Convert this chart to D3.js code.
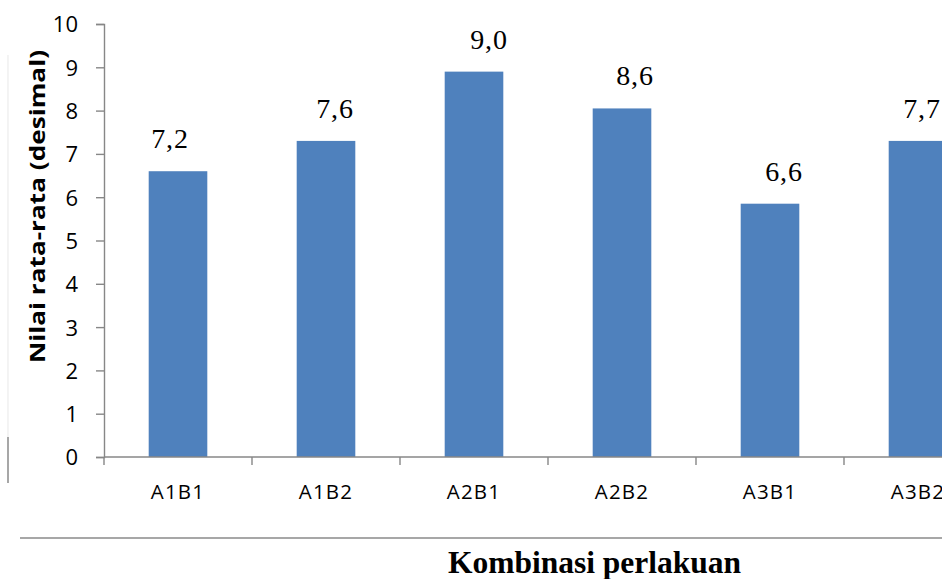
<!DOCTYPE html>
<html>
<head>
<meta charset="utf-8">
<script src="https://cdn.jsdelivr.net/npm/d3@7"></script>
<style>
  html, body { margin: 0; padding: 0; background: #fff; }
  svg { display: block; }
</style>
</head>
<body>
<svg id="chart" width="942" height="579"></svg>
<script>
// ---- data ----
const categories = ["A1B1", "A1B2", "A2B1", "A2B2", "A3B1", "A3B2"];
const barValues = [6.6, 7.3, 8.9, 8.05, 5.85, 7.3];
const labelTexts = ["7,2", "7,6", "9,0", "8,6", "6,6", "7,7"];
const labelDx = [-8, 9, 15, 13, 14, 4];
const yTicks = [0, 1, 2, 3, 4, 5, 6, 7, 8, 9, 10];
const yTitle = "Nilai rata-rata (desimal)";
const xTitle = "Kombinasi perlakuan";

// ---- layout ----
const svg = d3.select("#chart");
const axisColor = "#878787";
const barColor = "#4F81BD";
const plotLeft = 104, plotRight = 992, plotTop = 24, plotBottom = 457;

const y = d3.scaleLinear().domain([0, 10]).range([plotBottom, plotTop]);
const xSlot = d3.scaleBand().domain(categories).range([plotLeft, plotRight]).padding(0);
const x = d3.scaleBand().domain(categories).range([plotLeft, plotRight])
  .paddingInner(0.604).paddingOuter(0.302);

// faint & dark left border lines (page artefacts)
svg.append("line").attr("x1", 8).attr("x2", 8).attr("y1", 55).attr("y2", 437)
  .attr("stroke", "#ececec").attr("stroke-width", 1.2);
svg.append("line").attr("x1", 8).attr("x2", 8).attr("y1", 437).attr("y2", 483)
  .attr("stroke", "#8a8a8a").attr("stroke-width", 1.5);

// bars
svg.append("g").selectAll("rect").data(categories).join("rect")
  .attr("x", d => x(d))
  .attr("y", (d, i) => y(barValues[i]))
  .attr("width", x.bandwidth())
  .attr("height", (d, i) => y(0) - y(barValues[i]))
  .attr("fill", barColor);

// y axis
const yAxis = d3.axisLeft(y).tickValues(yTicks).tickSize(8).tickPadding(18)
  .tickFormat(d3.format("d"));
const gy = svg.append("g").attr("transform", `translate(${plotLeft},0)`).call(yAxis);
gy.select(".domain").attr("stroke", axisColor).attr("stroke-width", 1.4);
gy.selectAll(".tick line").attr("stroke", axisColor).attr("stroke-width", 1.4);
gy.selectAll(".tick text")
  .attr("font-family", "'Open Sans', sans-serif")
  .attr("font-size", 22).attr("fill", "#000").attr("dy", "0.36em");

// x axis line
svg.append("line").attr("x1", plotLeft).attr("x2", plotRight).attr("y1", plotBottom).attr("y2", plotBottom)
  .attr("stroke", axisColor).attr("stroke-width", 1.4);
// x ticks at category boundaries
const bounds = categories.map(d => xSlot(d)).concat([plotRight]);
svg.append("g").selectAll("line").data(bounds).join("line")
  .attr("x1", d => d).attr("x2", d => d)
  .attr("y1", plotBottom).attr("y2", plotBottom + 8)
  .attr("stroke", axisColor).attr("stroke-width", 1.4);
// category labels
svg.append("g").selectAll("text").data(categories).join("text")
  .attr("x", d => xSlot(d) + xSlot.bandwidth() / 2)
  .attr("y", plotBottom + 42)
  .attr("text-anchor", "middle")
  .attr("font-family", "'Open Sans', sans-serif")
  .attr("font-size", 20.5)
  .attr("letter-spacing", 1.2)
  .attr("fill", "#000")
  .text(d => d);

// data labels
svg.append("g").selectAll("text").data(categories).join("text")
  .attr("x", (d, i) => x(d) + x.bandwidth() / 2 + labelDx[i])
  .attr("y", (d, i) => y(barValues[i]) - 23)
  .attr("text-anchor", "middle")
  .attr("font-family", "'Liberation Serif', 'Times New Roman', serif")
  .attr("font-size", 28)
  .attr("letter-spacing", 0.8)
  .attr("fill", "#000")
  .text((d, i) => labelTexts[i]);

// y title
svg.append("text")
  .attr("transform", "translate(45,206.5) rotate(-90)")
  .attr("text-anchor", "middle")
  .attr("font-family", "'Open Sans', sans-serif")
  .attr("font-weight", "bold")
  .attr("font-size", 22)
  .attr("textLength", 313)
  .attr("lengthAdjust", "spacingAndGlyphs")
  .attr("fill", "#000")
  .text(yTitle);

// separator line above x title
svg.append("line").attr("x1", 20).attr("x2", 942).attr("y1", 538).attr("y2", 538)
  .attr("stroke", "#8a8a8a").attr("stroke-width", 1.6);

// x title
svg.append("text")
  .attr("x", 594.5).attr("y", 573)
  .attr("text-anchor", "middle")
  .attr("font-family", "'Liberation Serif', 'Times New Roman', serif")
  .attr("font-weight", "bold")
  .attr("font-size", 31.5)
  .attr("fill", "#000")
  .text(xTitle);
</script>
</body>
</html>
